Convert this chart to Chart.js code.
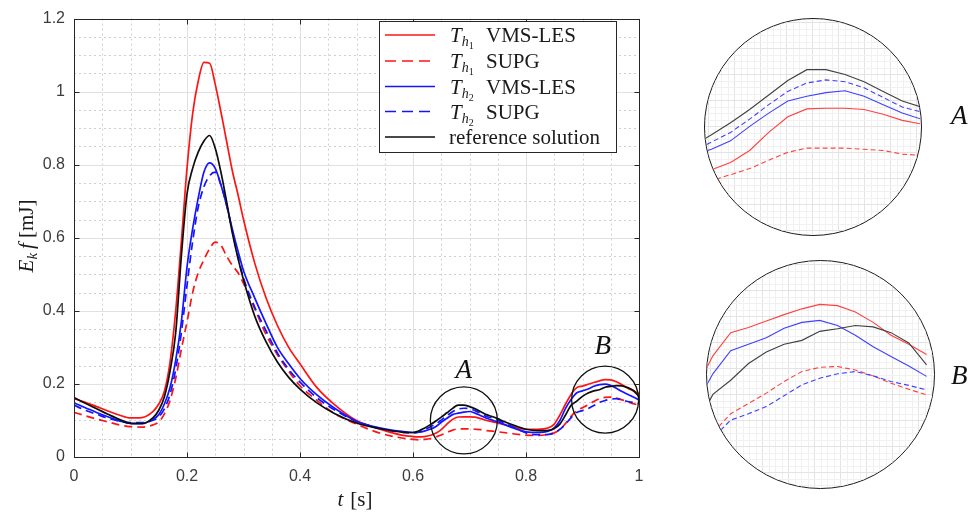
<!DOCTYPE html>
<html><head><meta charset="utf-8">
<script src="https://cdn.jsdelivr.net/npm/chart.js@4.4.1/dist/chart.umd.min.js"></script>
<style>
html,body{margin:0;padding:0;background:#fff;overflow:hidden;width:968px;height:513px;}
#main{position:absolute;left:0;top:0;}
.inset{position:absolute;border:1.5px solid #1a1a1a;border-radius:50%;overflow:hidden;box-sizing:border-box;background:#fff;}
.inset canvas{position:absolute;left:0;top:0;}
.lab{position:absolute;font:italic 27px "Liberation Serif",serif;color:#111;line-height:1;white-space:nowrap;}
</style></head><body>
<canvas id="main" width="968" height="513"></canvas>
<div class="inset" id="wrapA" style="left:704px;top:18px;width:218px;height:218px;"><canvas id="insA" width="215" height="215"></canvas></div>
<div class="inset" id="wrapB" style="left:706px;top:260px;width:229px;height:229px;"><canvas id="insB" width="226" height="226"></canvas></div>
<span class="lab" style="left:951px;top:102px">A</span>
<span class="lab" style="left:951px;top:362px">B</span>
<script>
// ---------------- data ----------------
const t = [0,0.02,0.04,0.06,0.08,0.10,0.12,0.14,0.15,0.16,0.17,0.18,0.19,0.20,0.21,0.22,0.23,0.24,0.25,0.26,0.27,0.28,0.29,0.30,0.32,0.34,0.36,0.38,0.40,0.43,0.46,0.50,0.54,0.58,0.60,0.61,0.62,0.63,0.64,0.65,0.66,0.67,0.68,0.69,0.70,0.71,0.72,0.73,0.74,0.75,0.76,0.78,0.80,0.82,0.84,0.85,0.86,0.87,0.88,0.89,0.90,0.91,0.92,0.93,0.94,0.95,0.96,0.97,0.98,0.99,1.00];

const h1VMS = [0.160,0.150,0.138,0.126,0.115,0.107,0.108,0.125,0.145,0.180,0.260,0.400,0.590,0.790,0.940,1.030,1.080,1.078,1.020,0.945,0.865,0.785,0.720,0.650,0.530,0.435,0.360,0.300,0.255,0.190,0.145,0.100,0.077,0.060,0.056,0.055,0.056,0.059,0.065,0.075,0.090,0.103,0.1095,0.110,0.110,0.109,0.105,0.100,0.097,0.093,0.089,0.081,0.076,0.076,0.080,0.090,0.115,0.145,0.172,0.190,0.194,0.199,0.204,0.2085,0.212,0.211,0.206,0.198,0.188,0.181,0.173];

const h1SUPG = [0.122,0.113,0.104,0.096,0.088,0.083,0.082,0.088,0.096,0.118,0.155,0.215,0.295,0.370,0.450,0.505,0.540,0.570,0.588,0.580,0.550,0.525,0.505,0.475,0.405,0.335,0.280,0.235,0.195,0.155,0.120,0.090,0.066,0.052,0.048,0.047,0.048,0.050,0.055,0.060,0.067,0.0735,0.077,0.077,0.077,0.076,0.075,0.072,0.071,0.069,0.067,0.063,0.060,0.059,0.062,0.066,0.075,0.092,0.112,0.127,0.135,0.143,0.152,0.1598,0.163,0.1637,0.161,0.1564,0.1507,0.146,0.1416];

const h2VMS = [0.148,0.135,0.122,0.110,0.099,0.092,0.092,0.103,0.116,0.145,0.190,0.265,0.370,0.520,0.625,0.710,0.780,0.805,0.790,0.745,0.690,0.625,0.565,0.510,0.435,0.365,0.300,0.255,0.215,0.170,0.135,0.098,0.080,0.070,0.067,0.068,0.071,0.076,0.083,0.095,0.106,0.116,0.120,0.123,0.1245,0.120,0.113,0.106,0.101,0.096,0.090,0.078,0.069,0.067,0.071,0.080,0.100,0.133,0.158,0.176,0.181,0.186,0.1935,0.198,0.1995,0.1955,0.188,0.179,0.1715,0.164,0.156];

const h2SUPG = [0.142,0.128,0.117,0.106,0.098,0.094,0.094,0.101,0.110,0.132,0.172,0.240,0.340,0.470,0.590,0.685,0.740,0.770,0.780,0.745,0.690,0.620,0.550,0.490,0.410,0.345,0.285,0.240,0.205,0.162,0.130,0.097,0.079,0.068,0.066,0.068,0.074,0.082,0.090,0.101,0.113,0.124,0.131,0.1335,0.132,0.127,0.119,0.111,0.107,0.101,0.094,0.080,0.066,0.061,0.062,0.066,0.076,0.090,0.108,0.122,0.127,0.1325,0.141,0.1494,0.1546,0.158,0.1598,0.1564,0.152,0.149,0.1455];

const refSol = [0.163,0.147,0.132,0.117,0.103,0.092,0.091,0.108,0.128,0.165,0.235,0.340,0.550,0.720,0.790,0.835,0.865,0.880,0.845,0.780,0.700,0.615,0.545,0.485,0.385,0.315,0.260,0.218,0.186,0.148,0.120,0.093,0.078,0.068,0.067,0.071,0.079,0.088,0.098,0.109,0.121,0.133,0.142,0.142,0.138,0.132,0.124,0.116,0.111,0.105,0.098,0.086,0.076,0.072,0.073,0.078,0.090,0.115,0.142,0.153,0.166,0.175,0.181,0.184,0.191,0.193,0.1955,0.1945,0.190,0.182,0.165];

const xTicks = [0,0.2,0.4,0.6,0.8,1];
const yTicks = [0,0.2,0.4,0.6,0.8,1,1.2];

const legendMesh   = ['1','1','2','2',null];
const legendMethod = ['VMS-LES','SUPG','VMS-LES','SUPG','reference solution'];

// zoom circles (A and B) in data units
const zoomNames = ['A','B'];
const zoomT = [0.69, 0.94];
const zoomV = [0.100, 0.157];
const zoomR = 0.0593;           // radius in t units
const zoomLabelT = [0.69, 0.936];
const zoomLabelV = [0.216, 0.281];

// ---------------- styles ----------------
const RED = '#ff1414', BLUE = '#1414ff', BLACK = '#0d0d0d';
const seriesList = [h1VMS, h1SUPG, h2VMS, h2SUPG, refSol];
const colors = [RED, RED, BLUE, BLUE, BLACK];
const dashed = [false, true, false, true, false];
const orders = [5, 4, 3, 2, 1];

function pts(arr){ return arr.map((v,i)=>({x:t[i], y:v})); }
function fmt(v){ return String(Math.round(v*10)/10); }
const SERIF = '"Liberation Serif", "Times New Roman", serif';

function makeDatasets(lw, dash, tension){
  return seriesList.map((arr,i)=>({
    label: (legendMesh[i] ? 'T_h'+legendMesh[i]+' ' : '') + legendMethod[i],
    data: pts(arr),
    borderColor: colors[i],
    backgroundColor: colors[i],
    borderWidth: lw,
    borderDash: dashed[i] ? dash : [],
    pointRadius: 0,
    fill: false,
    order: orders[i],
    tension: tension,
    cubicInterpolationMode: tension > 0 ? 'monotone' : 'default'
  }));
}

function line(ctx,x1,y1,x2,y2){ ctx.beginPath(); ctx.moveTo(x1,y1); ctx.lineTo(x2,y2); ctx.stroke(); }

// draw pieces of mixed-font text, returns width
function drawPieces(ctx, pieces, x, y){
  let cx = x;
  pieces.forEach(p=>{
    ctx.font = p.font;
    ctx.fillText(p.text, cx, y + (p.dy||0));
    cx += ctx.measureText(p.text).width + (p.gap||0);
  });
  return cx - x;
}
function measurePieces(ctx, pieces){
  let w = 0;
  pieces.forEach(p=>{ ctx.font = p.font; w += ctx.measureText(p.text).width + (p.gap||0); });
  return w;
}

const decor = {
  id: 'decor',
  beforeDatasetsDraw(chart){
    const {ctx, chartArea:a, scales:{x,y}} = chart;
    ctx.save();
    ctx.lineWidth = 1;
    // minor dotted grid
    ctx.strokeStyle = '#cfcfcf';
    ctx.setLineDash([2,3]);
    for (let k=1;k<20;k++){ if (k%4===0) continue; const px=Math.round(x.getPixelForValue(k*0.05))+0.5; line(ctx,px,a.top,px,a.bottom); }
    for (let k=1;k<24;k++){ if (k%4===0) continue; const py=Math.round(y.getPixelForValue(k*0.05))+0.5; line(ctx,a.left,py,a.right,py); }
    // major grid
    ctx.setLineDash([]);
    ctx.strokeStyle = '#e1e1e1';
    xTicks.forEach(v=>{ const px=Math.round(x.getPixelForValue(v))+0.5; line(ctx,px,a.top,px,a.bottom); });
    yTicks.forEach(v=>{ const py=Math.round(y.getPixelForValue(v))+0.5; line(ctx,a.left,py,a.right,py); });
    ctx.restore();
  },
  afterDatasetsDraw(chart){
    const {ctx, chartArea:a, scales:{x,y}} = chart;
    ctx.save();
    // frame
    ctx.strokeStyle = '#262626'; ctx.lineWidth = 1; ctx.setLineDash([]);
    const L=Math.round(a.left)+0.5, R=Math.round(a.right)+0.5, T=Math.round(a.top)+0.5, B=Math.round(a.bottom)+0.5;
    ctx.strokeRect(L, T, R-L, B-T);
    // inward ticks
    xTicks.forEach(v=>{ const px=Math.round(x.getPixelForValue(v))+0.5; line(ctx,px,B,px,B-5); line(ctx,px,T,px,T+5); });
    yTicks.forEach(v=>{ const py=Math.round(y.getPixelForValue(v))+0.5; line(ctx,L,py,L+5,py); line(ctx,R,py,R-5,py); });

    // zoom circles and letters
    ctx.strokeStyle = '#111'; ctx.lineWidth = 1.3;
    zoomT.forEach((tc,i)=>{
      const cx = x.getPixelForValue(tc), cy = y.getPixelForValue(zoomV[i]);
      const r = x.getPixelForValue(tc + zoomR) - cx;
      ctx.beginPath(); ctx.arc(cx, cy, r, 0, Math.PI*2); ctx.stroke();
      ctx.fillStyle = '#111'; ctx.font = 'italic 27px ' + SERIF; ctx.textAlign = 'center'; ctx.textBaseline = 'alphabetic';
      ctx.fillText(zoomNames[i], x.getPixelForValue(zoomLabelT[i]), y.getPixelForValue(zoomLabelV[i]));
    });

    // legend
    const bx = 379.5, by = 21.5, bw = 237, bh = 131;
    ctx.fillStyle = '#fff'; ctx.fillRect(bx, by, bw, bh);
    ctx.strokeStyle = '#262626'; ctx.lineWidth = 1; ctx.strokeRect(bx, by, bw, bh);
    const rowY = [35, 61, 86.5, 111.5, 137];
    ctx.textAlign = 'left'; ctx.textBaseline = 'alphabetic';
    legendMethod.forEach((m,i)=>{
      const yc = rowY[i];
      ctx.strokeStyle = colors[i]; ctx.lineWidth = 1.6;
      ctx.setLineDash(dashed[i] ? [11,6] : []);
      line(ctx, 385, yc, 435, yc);
      ctx.setLineDash([]);
      ctx.fillStyle = '#1a1a1a';
      const base = yc + 7;
      if (legendMesh[i]){
        drawPieces(ctx, [
          {text:'T', font:'italic 21px '+SERIF, gap:0},
          {text:'h', font:'italic 14px '+SERIF, dy:4},
          {text:legendMesh[i], font:'10px '+SERIF, dy:7}
        ], 450, base);
        ctx.font = '21px ' + SERIF;
        ctx.fillText(m, 486, base);
      } else {
        ctx.font = '21px ' + SERIF;
        ctx.fillText(m, 449, base);
      }
    });

    // y axis title
    ctx.fillStyle = '#1a1a1a';
    ctx.save();
    ctx.translate(33, 236);
    ctx.rotate(-Math.PI/2);
    const yPieces = [
      {text:'E', font:'italic 21px '+SERIF},
      {text:'k', font:'italic 15px '+SERIF, dy:4, gap:4},
      {text:'f', font:'italic 21px '+SERIF, gap:5},
      {text:'[mJ]', font:'21px '+SERIF}
    ];
    const yw = measurePieces(ctx, yPieces);
    drawPieces(ctx, yPieces, -yw/2, 0);
    ctx.restore();
    // x axis title
    const xPieces = [
      {text:'t', font:'italic 21px '+SERIF, gap:7},
      {text:'[s]', font:'21px '+SERIF}
    ];
    const xw = measurePieces(ctx, xPieces);
    drawPieces(ctx, xPieces, 355 - xw/2, 506);
    ctx.restore();
  }
};

new Chart(document.getElementById('main').getContext('2d'), {
  type: 'line',
  data: { datasets: makeDatasets(1.7, [8,5], 0.4) },
  options: {
    responsive: false, animation: false, events: [],
    layout: { padding: { left: 0, right: 329, top: 13, bottom: 0 } },
    plugins: { legend: { display: false }, tooltip: { enabled: false } },
    scales: {
      x: {
        type: 'linear', min: 0, max: 1,
        grid: { display: false, drawTicks: false },
        border: { display: false },
        afterFit: s => { s.height = 56; },
        afterBuildTicks: s => { s.ticks = xTicks.map(v=>({value:v})); },
        ticks: { callback: v => fmt(v), font: { family: '"Liberation Sans", Arial, sans-serif', size: 16 }, color: '#3c3c3c', padding: 10, maxRotation: 0, autoSkip: false }
      },
      y: {
        type: 'linear', min: 0, max: 1.2,
        grid: { display: false, drawTicks: false },
        border: { display: false },
        afterFit: s => { s.width = 74; },
        afterBuildTicks: s => { s.ticks = yTicks.map(v=>({value:v})); },
        ticks: { callback: v => fmt(v), font: { family: '"Liberation Sans", Arial, sans-serif', size: 16 }, color: '#3c3c3c', padding: 9, autoSkip: false }
      }
    }
  },
  plugins: [decor]
});

// ---------------- insets ----------------
const insetGrid = {
  id: 'insetGrid',
  beforeDatasetsDraw(chart){
    const {ctx, width, height} = chart;
    ctx.save();
    ctx.lineWidth = 1;
    for (let k=0, p=3; p<width; p+=6.5, k++){
      ctx.strokeStyle = (k%4===0) ? '#e3e3e3' : '#f1f1f1';
      line(ctx, Math.round(p)+0.5, 0, Math.round(p)+0.5, height);
    }
    for (let k=0, p=3; p<height; p+=6.5, k++){
      ctx.strokeStyle = (k%4===0) ? '#e3e3e3' : '#f1f1f1';
      line(ctx, 0, Math.round(p)+0.5, width, Math.round(p)+0.5);
    }
    ctx.restore();
  }
};
function makeInset(id, xr, yr){
  const ds = makeDatasets(1.1, [5,3], 0);
  ds.forEach((d,i)=>{ d.borderColor = [ '#ff4040','#ff4040','#4040ff','#4040ff','#404040'][i]; });
  new Chart(document.getElementById(id).getContext('2d'), {
    type: 'line',
    data: { datasets: ds },
    options: {
      responsive: false, animation: false, events: [],
      layout: { padding: 0 },
      plugins: { legend: { display: false }, tooltip: { enabled: false } },
      scales: {
        x: { type: 'linear', display: false, min: xr[0], max: xr[1] },
        y: { type: 'linear', display: false, min: yr[0], max: yr[1] }
      }
    },
    plugins: [insetGrid]
  });
}
makeInset('insA', [0.6266, 0.7393], [0.0058, 0.184]);
makeInset('insB', [0.8767, 1.0036], [0.070, 0.2457]);
</script>
</body></html>
